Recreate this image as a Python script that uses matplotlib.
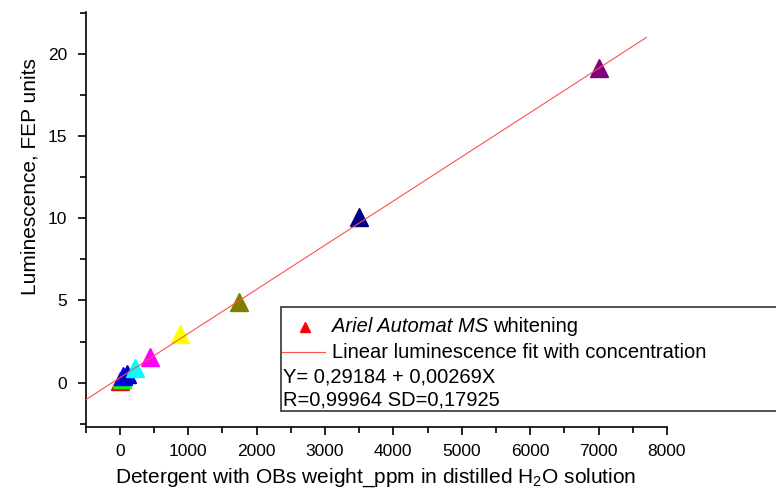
import matplotlib
matplotlib.use("Agg")
import matplotlib.pyplot as plt
from matplotlib.patches import Rectangle
from matplotlib.lines import Line2D
from matplotlib.ticker import MultipleLocator
import numpy as np

plt.rcParams['font.family'] = ['Liberation Sans', 'DejaVu Sans']
plt.rcParams['mathtext.fontset'] = 'custom'
plt.rcParams['mathtext.rm'] = 'Liberation Sans'
plt.rcParams['mathtext.default'] = 'regular'

# Data
conc_ppm = [0, 27, 55, 109, 219, 437, 875, 1750, 3500, 7000]
lum_fep = [0.1, 0.25, 0.4, 0.55, 0.9, 1.55, 2.98, 4.88, 10.08, 19.12]
point_colors = ['#FF0000', '#00FF00', '#0000FF', '#0000C8', '#00FFFF', '#FF00FF',
                '#FFFF00', '#808000', '#000080', '#800080']
fit_intercept = 0.29184
fit_slope = 0.00269
fit_range = [-500, 7700]

x_label = 'Detergent with OBs weight_ppm in distilled H$_2$O solution'
y_label = 'Luminescence, FEP units'
legend_series = 'whitening'
legend_series_italic = 'Ariel Automat MS'
legend_fit = 'Linear luminescence fit with concentration'
eq_text = 'Y= 0,29184 + 0,00269X'
r_text = 'R=0,99964 SD=0,17925'

W, H = 776, 494
fig = plt.figure(figsize=(W / 100, H / 100), dpi=100)
ax = fig.add_axes([85.5 / W, 1 - 427 / H, (667 - 85.5) / W, (427 - 12) / H])

fx = np.array(fit_range, dtype=float)
ax.plot(fx, fit_intercept + fit_slope * fx, color='#FF5050', lw=0.8, zorder=3)
for x, y, c in zip(conc_ppm, lum_fep, point_colors):
    ax.plot([x], [y], marker='^', ms=12.5, color=c, mec=c, ls='none', zorder=2)

ax.set_xlim(-500, 8000)
ax.set_ylim(-2.7, 22.55)
ax.xaxis.set_major_locator(MultipleLocator(1000))
ax.xaxis.set_minor_locator(MultipleLocator(500))
ax.yaxis.set_major_locator(MultipleLocator(5))
ax.yaxis.set_minor_locator(MultipleLocator(2.5))
for s in ['top', 'right']:
    ax.spines[s].set_visible(False)
for s in ['left', 'bottom']:
    ax.spines[s].set_linewidth(1.2)
ax.tick_params(which='major', direction='out', length=6, width=1.2, labelsize=12.5)
ax.tick_params(axis='x', which='major', pad=6)
ax.tick_params(axis='y', which='major', pad=7)
ax.tick_params(which='minor', direction='out', length=4, width=1.2)

def fx_(px):
    return px / W

def fy_(py):
    return 1 - py / H

fig.text(fx_(375.5), fy_(478), x_label, fontsize=15, ha='center', va='center')
fig.text(fx_(30), fy_(177), y_label, fontsize=15, ha='center', va='center', rotation=90)

# Legend box (clipped at the right edge of the figure)
fig.patches.append(Rectangle((fx_(281), fy_(411)), fx_(800) - fx_(281), fy_(307) - fy_(411),
                             transform=fig.transFigure, facecolor='white', edgecolor='#333333',
                             lw=1.2, zorder=5))
fig.lines.append(Line2D([fx_(305)], [fy_(327)], marker='^', ms=7, color='#FF0000',
                        transform=fig.transFigure, zorder=6))
t1 = fig.text(fx_(332), fy_(327), legend_series_italic, style='italic', fontsize=14.5,
              va='center', ha='left', zorder=6)
fig.canvas.draw()
bb = t1.get_window_extent()
fig.text(bb.x1 / W + 5 / W, fy_(327), legend_series, fontsize=14.5, va='center', ha='left', zorder=6)
fig.lines.append(Line2D([fx_(282), fx_(325)], [fy_(352), fy_(352)], color='#FF5050', lw=0.8,
                        transform=fig.transFigure, zorder=6))
fig.text(fx_(332), fy_(352), legend_fit, fontsize=14.5, va='center', ha='left', zorder=6)
fig.text(fx_(283), fy_(377), eq_text, fontsize=14.5, va='center', ha='left', zorder=6)
fig.text(fx_(283), fy_(400), r_text, fontsize=14.5, va='center', ha='left', zorder=6)

fig.savefig('out.png', dpi=100)
